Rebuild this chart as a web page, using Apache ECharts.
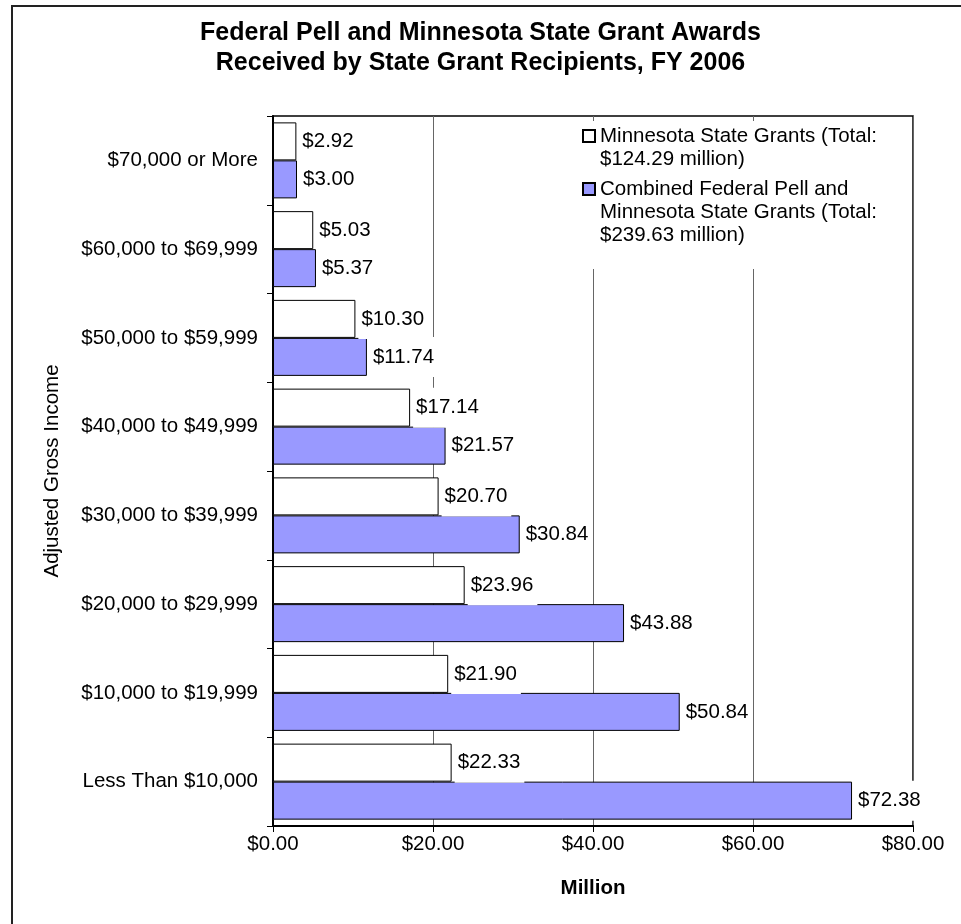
<!DOCTYPE html>
<html>
<head>
<meta charset="utf-8">
<script src="https://cdn.jsdelivr.net/npm/echarts@6/dist/echarts.min.js"></script>
<style>
  html, body { margin: 0; padding: 0; background: #fff; }
  #chart { width: 961px; height: 924px; }
</style>
</head>
<body>
<div id="chart"></div>
<script>
// Categories, bottom to top
var categories = [
  'Less Than $10,000',
  '$10,000 to $19,999',
  '$20,000 to $29,999',
  '$30,000 to $39,999',
  '$40,000 to $49,999',
  '$50,000 to $59,999',
  '$60,000 to $69,999',
  '$70,000 or More'
];
var stateGrants = [22.33, 21.90, 23.96, 20.70, 17.14, 10.30, 5.03, 2.92];
var combinedGrants = [72.38, 50.84, 43.88, 30.84, 21.57, 11.74, 5.37, 3.00];
var seriesNames = [
  'Minnesota State Grants (Total:\n$124.29 million)',
  'Combined Federal Pell and\nMinnesota State Grants (Total:\n$239.63 million)'
];
var xTicks = [0, 20, 40, 60, 80];

var FONT = '"Liberation Sans", Arial, sans-serif';
var FS = 20.5;
var chart = echarts.init(document.getElementById('chart'));

var labelCfg = {
  show: true,
  position: 'right',
  distance: 3,
  color: '#000',
  fontFamily: FONT,
  fontSize: FS,
  lineHeight: 22,
  backgroundColor: '#fff',
  padding: [9, 4, 9, 3],
  formatter: function (p) { return '$' + p.value.toFixed(2); }
};

chart.setOption({
  animation: false,
  backgroundColor: '#fff',
  title: {
    text: 'Federal Pell and Minnesota State Grant Awards\nReceived by State Grant Recipients, FY 2006',
    left: 'center',
    top: 13,
    textStyle: { fontFamily: FONT, fontSize: 25, fontWeight: 'bold', lineHeight: 30, color: '#000' }
  },
  graphic: [
    { type: 'rect', z: -1, shape: { x: 12, y: 6, width: 1000, height: 1000 },
      style: { fill: 'none', stroke: '#222', lineWidth: 2 } },
    { type: 'rect', z: 1, shape: { x: 578, y: 121, width: 328, height: 148 },
      style: { fill: '#fff', stroke: 'none' } }
  ],
  legend: {
    orient: 'vertical',
    left: 582,
    top: 101.5,
    padding: 0,
    itemGap: -39,
    itemWidth: 12,
    itemHeight: 12,
    icon: 'rect',
    textStyle: { fontFamily: FONT, fontSize: FS, lineHeight: 23, color: '#000' },
    formatter: function (name) {
      // leading blank lines keep the first text line level with the icon
      return name === seriesNames[0] ? '\n' + name : '\n\n' + name;
    },
    data: [seriesNames[0], seriesNames[1]]
  },
  grid: {
    left: 273, top: 116, width: 640, height: 710,
    show: true, borderColor: '#000', borderWidth: 1.5, backgroundColor: 'transparent'
  },
  xAxis: {
    type: 'value',
    min: xTicks[0], max: xTicks[xTicks.length - 1], interval: 20,
    name: 'Million',
    nameLocation: 'middle',
    nameGap: 52,
    nameTextStyle: { fontFamily: FONT, fontSize: FS, fontWeight: 'bold', color: '#000' },
    axisLine: { show: true, lineStyle: { color: '#000', width: 2 } },
    axisTick: { show: true, length: 6, lineStyle: { color: '#000', width: 1 } },
    axisLabel: {
      margin: 8, color: '#000', fontFamily: FONT, fontSize: FS,
      formatter: function (v) { return '$' + v.toFixed(2); }
    },
    splitLine: { show: true, lineStyle: { color: '#666', width: 1 } }
  },
  yAxis: {
    type: 'category',
    data: categories,
    name: 'Adjusted Gross Income',
    nameLocation: 'middle',
    nameGap: 210,
    nameTextStyle: { fontFamily: FONT, fontSize: FS, color: '#000' },
    axisLine: { show: true, lineStyle: { color: '#000', width: 2 } },
    axisTick: { show: true, length: 6, lineStyle: { color: '#000', width: 1 } },
    axisLabel: { margin: 15, color: '#000', fontFamily: FONT, fontSize: FS },
    splitLine: { show: false }
  },
  series: [
    {
      name: seriesNames[0],
      type: 'bar',
      data: stateGrants,
      barWidth: 38,
      barGap: '0%',
      itemStyle: { color: '#ffffff', borderColor: '#000', borderWidth: 1 },
      label: labelCfg
    },
    {
      name: seriesNames[1],
      type: 'bar',
      data: combinedGrants,
      barWidth: 38,
      barGap: '0%',
      itemStyle: { color: '#9999ff', borderColor: '#000', borderWidth: 1 },
      label: labelCfg
    }
  ]
});
</script>
</body>
</html>
